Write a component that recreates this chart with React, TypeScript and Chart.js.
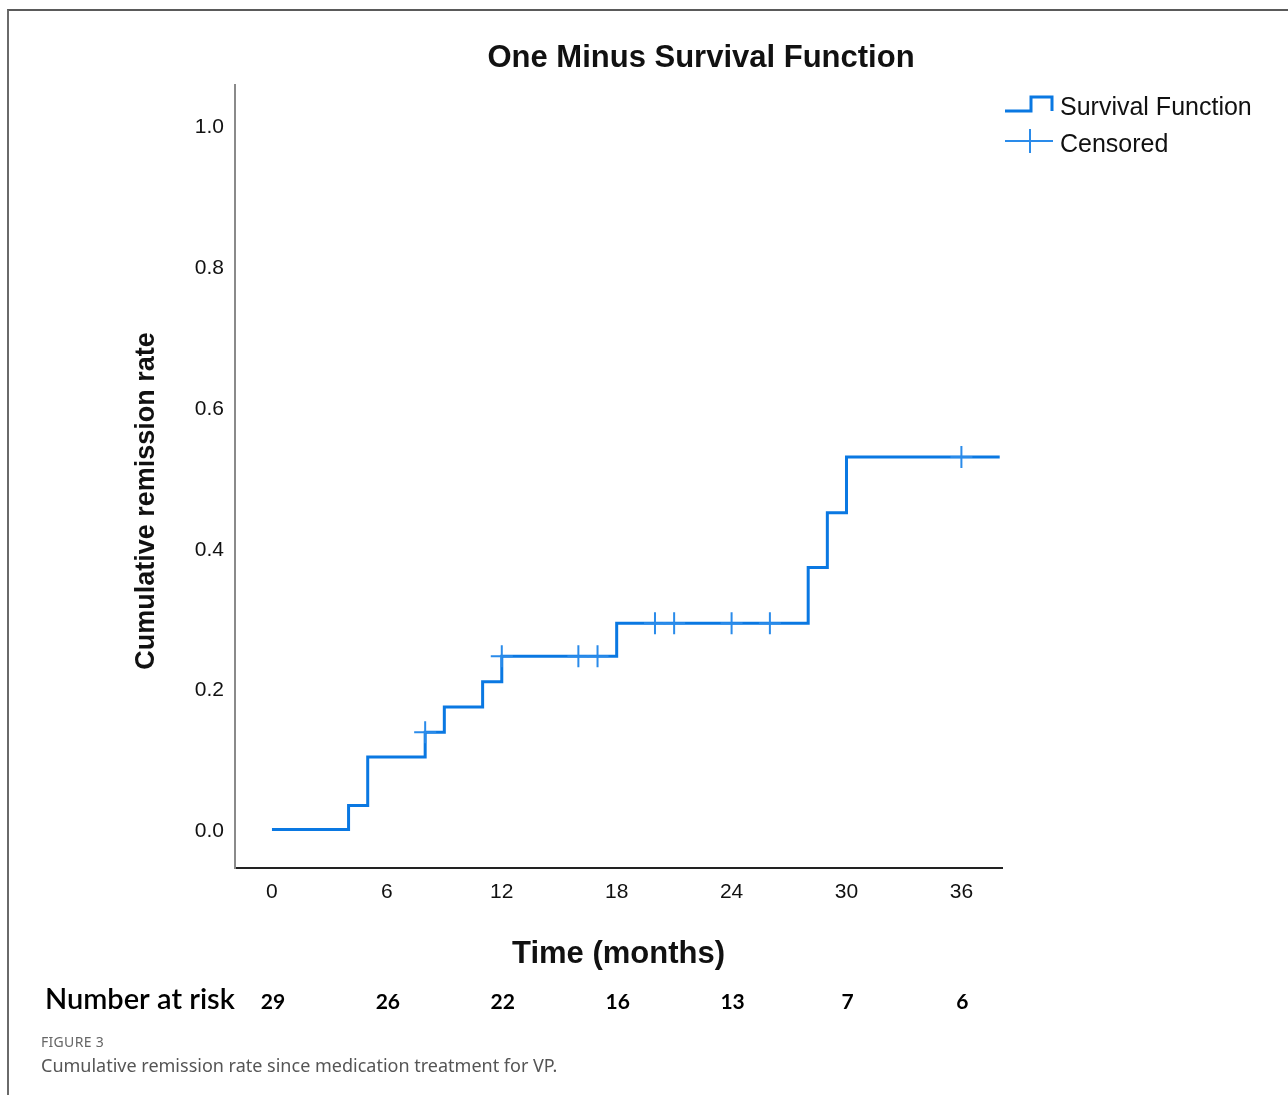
import React, { useEffect, useRef } from "react";
import { Chart, registerables } from "chart.js";

Chart.register(...registerables);

// ---- data ----
const stepTimes = [0, 4, 5, 8, 9, 11, 12, 18, 28, 29, 30, 38];
const cumulativeRemission = [0, 0.034, 0.103, 0.138, 0.174, 0.21, 0.246, 0.293, 0.372, 0.45, 0.529, 0.529];
const censoredTimes = [8, 12, 16, 17, 20, 21, 24, 26, 36];
const censoredValues = [0.138, 0.246, 0.246, 0.246, 0.293, 0.293, 0.293, 0.293, 0.529];
const xTickValues = [0, 6, 12, 18, 24, 30, 36];
const yTickValues = [0, 0.2, 0.4, 0.6, 0.8, 1.0];
const riskTimes = [0, 6, 12, 18, 24, 30, 36];
const numberAtRisk = [29, 26, 22, 16, 13, 7, 6];

const TITLE = "One Minus Survival Function";
const X_TITLE = "Time (months)";
const Y_TITLE = "Cumulative remission rate";
const LEGEND_SURVIVAL = "Survival Function";
const LEGEND_CENSORED = "Censored";
const RISK_LABEL = "Number at risk";
const FIG_LABEL = "FIGURE 3";
const CAPTION = "Cumulative remission rate since medication treatment for VP.";

const LINE_COLOR = "#0A78E2";
const CENSOR_COLOR = "#2A8BEA";
const X_MIN = -1.93;
const X_MAX = 38.12;
const Y_MIN = -0.0547;
const Y_MAX = 1.0575;

const ARIAL = "'Liberation Sans', Arial, sans-serif";

const textPlugin = {
  id: "kmText",
  afterDraw(chart: any) {
    const ctx = chart.ctx as CanvasRenderingContext2D;
    const area = chart.chartArea;
    const xs = chart.scales.x;
    ctx.save();
    ctx.fillStyle = "#111";
    ctx.textBaseline = "alphabetic";

    // title
    ctx.textAlign = "center";
    ctx.font = `bold 31px ${ARIAL}`;
    ctx.fillText(TITLE, 701, 67);

    // x title
    ctx.font = `bold 31px ${ARIAL}`;
    ctx.fillText(X_TITLE, (area.left + area.right) / 2, 963);

    // y title
    ctx.save();
    ctx.translate(154, 501);
    ctx.rotate(-Math.PI / 2);
    ctx.font = `bold 27px ${ARIAL}`;
    ctx.fillText(Y_TITLE, 0, 0);
    ctx.restore();

    // legend
    ctx.strokeStyle = LINE_COLOR;
    ctx.lineWidth = 3;
    ctx.lineJoin = "miter";
    ctx.beginPath();
    ctx.moveTo(1005, 111);
    ctx.lineTo(1031, 111);
    ctx.lineTo(1031, 97);
    ctx.lineTo(1052, 97);
    ctx.lineTo(1052, 111);
    ctx.stroke();

    ctx.strokeStyle = CENSOR_COLOR;
    ctx.lineWidth = 2;
    ctx.beginPath();
    ctx.moveTo(1005, 141);
    ctx.lineTo(1053, 141);
    ctx.moveTo(1030, 129);
    ctx.lineTo(1030, 153);
    ctx.stroke();

    ctx.textAlign = "left";
    ctx.font = `25px ${ARIAL}`;
    ctx.fillText(LEGEND_SURVIVAL, 1060, 115);
    ctx.fillText(LEGEND_CENSORED, 1060, 152);

    // number at risk
    ctx.fillStyle = "#000";
    ctx.font = `600 29px Lato, 'Open Sans', sans-serif`;
    ctx.textAlign = "left";
    ctx.fillText(RISK_LABEL, 45, 1009);
    ctx.font = `bold 21px Lato, 'Open Sans', sans-serif`;
    ctx.textAlign = "center";
    riskTimes.forEach((t, i) => {
      ctx.fillText(String(numberAtRisk[i]), xs.getPixelForValue(t) + 1, 1009);
    });
    ctx.restore();
  },
};

export default function App() {
  const canvasRef = useRef<HTMLCanvasElement | null>(null);

  useEffect(() => {
    if (!canvasRef.current) return;
    const chart = new Chart(canvasRef.current, {
      type: "line",
      data: {
        datasets: [
          {
            label: LEGEND_CENSORED,
            type: "scatter",
            data: censoredTimes.map((t, i) => ({ x: t, y: censoredValues[i] })),
            showLine: false,
            pointStyle: "cross",
            pointRadius: 11,
            pointBorderWidth: 2,
            pointBorderColor: CENSOR_COLOR,
            pointBackgroundColor: CENSOR_COLOR,
            pointHoverRadius: 11,
          } as any,
          {
            label: LEGEND_SURVIVAL,
            data: stepTimes.map((t, i) => ({ x: t, y: cumulativeRemission[i] })),
            stepped: "before",
            borderColor: LINE_COLOR,
            borderWidth: 3,
            borderJoinStyle: "miter",
            borderCapStyle: "butt",
            pointRadius: 0,
            pointHoverRadius: 0,
            fill: false,
            tension: 0,
          } as any,
        ],
      },
      options: {
        responsive: false,
        animation: false,
        devicePixelRatio: 1,
        events: [],
        layout: { padding: { left: 0, right: 286, top: 85, bottom: 167 } },
        plugins: {
          legend: { display: false },
          tooltip: { enabled: false },
          title: { display: false },
        },
        scales: {
          x: {
            type: "linear",
            min: X_MIN,
            max: X_MAX,
            grid: { display: false, drawTicks: false, tickLength: 0 },
            border: { display: true, color: "#222", width: 2 },
            ticks: {
              padding: 12,
              color: "#111",
              font: { family: ARIAL, size: 21 },
              maxRotation: 0,
              autoSkip: false,
              callback: (v: any) => String(v),
            },
            afterBuildTicks: (s: any) => {
              s.ticks = xTickValues.map((v) => ({ value: v }));
            },
            afterFit: (s: any) => {
              s.height = 60;
            },
          },
          y: {
            type: "linear",
            min: Y_MIN,
            max: Y_MAX,
            grid: { display: false, drawTicks: false, tickLength: 0 },
            border: { display: true, color: "#8a8a8a", width: 2 },
            ticks: {
              padding: 11,
              color: "#111",
              labelOffset: 2,
              font: { family: ARIAL, size: 21 },
              autoSkip: false,
              callback: (v: any) => Number(v).toFixed(1),
            },
            afterBuildTicks: (s: any) => {
              s.ticks = yTickValues.map((v) => ({ value: v }));
            },
            afterFit: (s: any) => {
              s.width = 235;
            },
          },
        },
      } as any,
      plugins: [textPlugin],
    });
    return () => chart.destroy();
  }, []);

  return (
    <div
      style={{
        position: "fixed",
        left: 0,
        top: 0,
        width: 1288,
        height: 1095,
        overflow: "hidden",
        background: "#fff",
      }}
    >
      <div
        style={{
          position: "absolute",
          left: 7,
          top: 9,
          width: 2000,
          height: 2000,
          borderTop: "2px solid #5a5a5a",
          borderLeft: "2px solid #6a6a6a",
        }}
      />
      <canvas
        ref={canvasRef}
        width={1288}
        height={1095}
        style={{ position: "absolute", left: 0, top: 0, width: 1288, height: 1095 }}
      />
      <div
        style={{
          position: "absolute",
          left: 41,
          top: 1034,
          fontFamily: "'Noto Sans', 'Open Sans', sans-serif",
          fontSize: 14,
          color: "#666",
          letterSpacing: 0.3,
          lineHeight: "16px",
        }}
      >
        {FIG_LABEL}
      </div>
      <div
        style={{
          position: "absolute",
          left: 41,
          top: 1053,
          fontFamily: "'Noto Sans', 'Open Sans', sans-serif",
          fontSize: 18,
          color: "#555",
          lineHeight: "24px",
        }}
      >
        {CAPTION}
      </div>
    </div>
  );
}
